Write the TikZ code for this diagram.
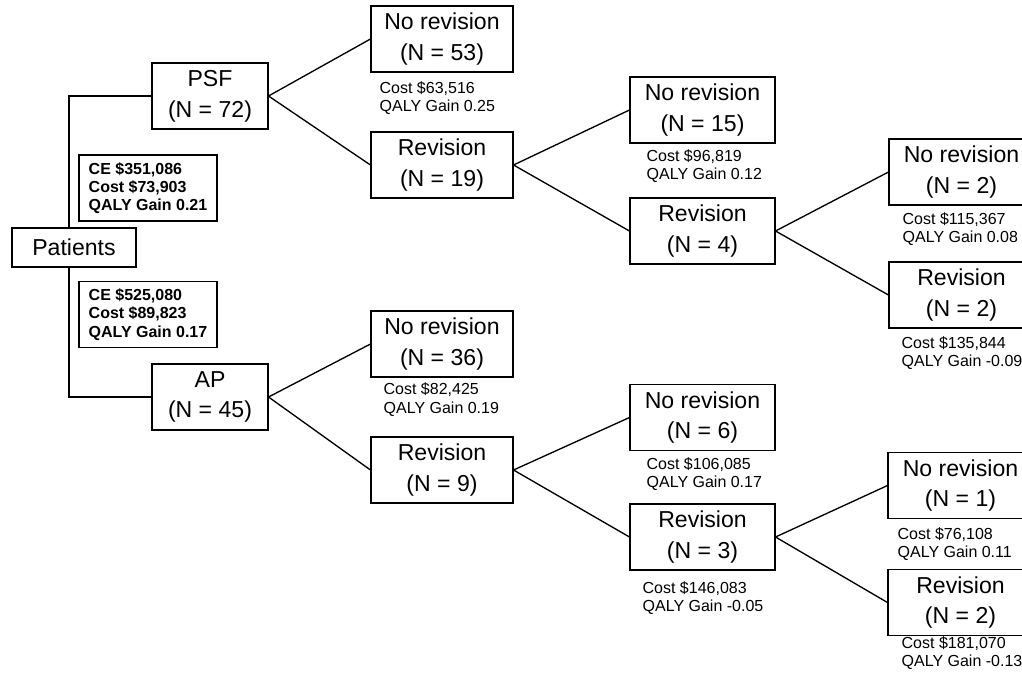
\documentclass[tikz,border=0pt]{standalone}
\usepackage{fontspec}
\setmainfont{Liberation Sans}
\begin{document}
\begin{tikzpicture}[
	x=0.75pt, y=-0.75pt,
	every path/.style={ line width=1pt },
	choice/.style={ draw, line width=0.8pt, inner sep=0pt, align=center, minimum height=49.5pt, font=\fontsize{17.3}{23}\selectfont },
	start/.style={ choice, minimum width=93pt, minimum height=29.25pt },
	arm/.style={ choice, minimum width=87pt },
	mid/.style={ choice, minimum width=106.5pt },
	outer/.style={ choice, minimum width=108.75pt },
	summary/.style={ draw, line width=0.8pt, inner sep=0pt, align=left, minimum width=103.5pt, minimum height=49.5pt, font=\fontsize{12}{13.75}\selectfont\bfseries },
	stat/.style={ inner sep=0pt, anchor=west, align=left, font=\fontsize{12}{13.75}\selectfont }
]
\useasboundingbox (0,0) rectangle (1022,676);

\node at (74,247.5) (pat) [start] {Patients};

\node at (210,96) (psf) [arm] {PSF\\(N = 72)};
\node at (210,397) (ap) [arm] {AP\\(N = 45)};
\draw ([xshift=-3.75pt]pat.north) |- (psf.west);
\draw ([xshift=-3.75pt]pat.south) |- (ap.west);

\node at (148,188) (ce1) [summary] {CE \$351,086\\Cost \$73,903\\QALY Gain 0.21};
\node at (148,314.5) (ce2) [summary] {CE \$525,080\\Cost \$89,823\\QALY Gain 0.17};

% PSF branch
\node at (442,39) (nr53) [mid] {No revision\\(N = 53)};
\node at (442,165) (r19) [mid] {Revision\\(N = 19)};
\draw (psf.east) to (nr53.west);
\draw (psf.east) to (r19.west);
\node at (379,98) (s53) [stat] {Cost \$63,516\\QALY Gain 0.25};

\node at (702.5,110) (nr15) [outer] {No revision\\(N = 15)};
\node at (702.5,231) (r4) [outer] {Revision\\(N = 4)};
\draw (r19.east) to (nr15.west);
\draw (r19.east) to (r4.west);
\node at (646,166) (s15) [stat] {Cost \$96,819\\QALY Gain 0.12};

\node at (961.5,172) (nr2a) [outer] {No revision\\(N = 2)};
\node at (961.5,295) (r2a) [outer] {Revision\\(N = 2)};
\draw (r4.east) to (nr2a.west);
\draw (r4.east) to (r2a.west);
\node at (902,229) (s2a) [stat] {Cost \$115,367\\QALY Gain 0.08};
\node at (901,353) (s2b) [stat] {Cost \$135,844\\QALY Gain -0.09};

% AP branch
\node at (442,344) (nr36) [mid] {No revision\\(N = 36)};
\node at (442,470) (r9) [mid] {Revision\\(N = 9)};
\draw (ap.east) to (nr36.west);
\draw (ap.east) to (r9.west);
\node at (383,399.5) (s36) [stat] {Cost \$82,425\\QALY Gain 0.19};

\node at (702.5,417.5) (nr6) [outer] {No revision\\(N = 6)};
\node at (702.5,537) (r3) [outer] {Revision\\(N = 3)};
\draw (r9.east) to (nr6.west);
\draw (r9.east) to (r3.west);
\node at (646,474) (s6) [stat] {Cost \$106,085\\QALY Gain 0.17};
\node at (642,598) (s3) [stat] {Cost \$146,083\\QALY Gain -0.05};

\node at (960.5,485.5) (nr1) [outer] {No revision\\(N = 1)};
\node at (960.5,602.5) (r2b) [outer] {Revision\\(N = 2)};
\draw (r3.east) to (nr1.west);
\draw (r3.east) to (r2b.west);
\node at (897,544) (s1) [stat] {Cost \$76,108\\QALY Gain 0.11};
\node at (901,653) (s2c) [stat] {Cost \$181,070\\QALY Gain -0.13};

\end{tikzpicture}
\end{document}
